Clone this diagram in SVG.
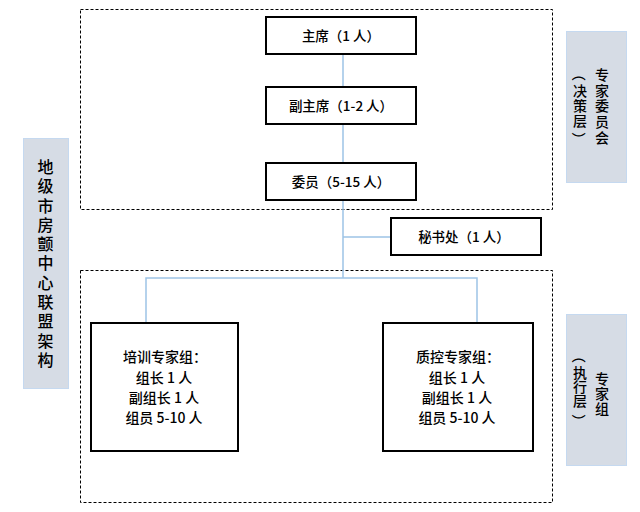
<svg xmlns="http://www.w3.org/2000/svg" width="640" height="512" viewBox="0 0 640 512">
<style>
text{font-family:"Noto Sans CJK SC","Liberation Sans",sans-serif;fill:#000;font-weight:500;}
.box{fill:#fff;stroke:#000;stroke-width:2;}
.dash{fill:none;stroke:#000;stroke-width:1;stroke-dasharray:3 2;}
.side{fill:#d6dce5;stroke:#c5d9f0;stroke-width:1;}
.conn{fill:none;stroke:#9dc3e6;stroke-width:1.5;}
.t13{font-size:13.5px;text-anchor:middle;}
.t14{font-size:14px;text-anchor:middle;}
.v{writing-mode:vertical-rl;text-anchor:middle;}
.p{font-size:14px;text-anchor:middle;dominant-baseline:central;}
</style>
<g id="layers">
<rect class="dash" x="80.5" y="9.5" width="472" height="200"/>
<rect class="dash" x="80.5" y="270.5" width="472" height="232"/>
</g>
<g id="connectors">
<line class="conn" x1="343" y1="54" x2="343" y2="87"/>
<line class="conn" x1="343" y1="124" x2="343" y2="163"/>
<polyline class="conn" points="343,200 343,278"/>
<line class="conn" x1="343" y1="237" x2="391" y2="237"/>
<polyline class="conn" points="146,323 146,278 477,278 477,323"/>
</g>
<g id="label-left">
<rect class="side" x="23.5" y="138.5" width="45" height="250"/>
<text class="v" x="45.5" y="265" style="font-size:16px;letter-spacing:3.3px">地级市房颤中心联盟架构</text>
</g>
<g id="label-top">
<rect class="side" x="566.5" y="31.5" width="60" height="151"/>
<text class="v" x="602" y="107" style="font-size:14px;letter-spacing:1.8px">专家委员会</text>
<text class="p" transform="translate(580,74) rotate(90)">（</text>
<text class="v" x="580" y="106" style="font-size:14px;letter-spacing:1px">决策层</text>
<text class="p" transform="translate(580,139) rotate(90)">）</text>
</g>
<g id="label-bottom">
<rect class="side" x="566.5" y="314.5" width="60" height="151"/>
<text class="v" x="602" y="394" style="font-size:14px;letter-spacing:1px">专家组</text>
<text class="p" transform="translate(580,356) rotate(90)">（</text>
<text class="v" x="580" y="387" style="font-size:14px;letter-spacing:0px">执行层</text>
<text class="p" transform="translate(580,421) rotate(90)">）</text>
</g>
<g id="chair">
<rect class="box" x="266" y="17" width="150" height="37"/>
<text class="t13" x="341" y="40.5">主席（1 人）</text>
</g>
<g id="vice-chair">
<rect class="box" x="266" y="87" width="150" height="37"/>
<text class="t13" x="341" y="110.5">副主席（1-2 人）</text>
</g>
<g id="members">
<rect class="box" x="266" y="163" width="150" height="37"/>
<text class="t13" x="341" y="186.5">委员（5-15 人）</text>
</g>
<g id="secretariat">
<rect class="box" x="391" y="218" width="150" height="37"/>
<text class="t13" x="464" y="241.5">秘书处（1 人）</text>
</g>
<g id="training-group">
<rect class="box" x="91" y="323" width="147" height="128"/>
<text class="t14" x="165" y="362">培训专家组：</text>
<text class="t14" x="164" y="383">组长 1 人</text>
<text class="t14" x="164" y="403">副组长 1 人</text>
<text class="t14" x="164" y="423">组员 5-10 人</text>
</g>
<g id="qc-group">
<rect class="box" x="383" y="323" width="150" height="128"/>
<text class="t14" x="458" y="362">质控专家组：</text>
<text class="t14" x="457" y="383">组长 1 人</text>
<text class="t14" x="457" y="403">副组长 1 人</text>
<text class="t14" x="457" y="423">组员 5-10 人</text>
</g>
</svg>
